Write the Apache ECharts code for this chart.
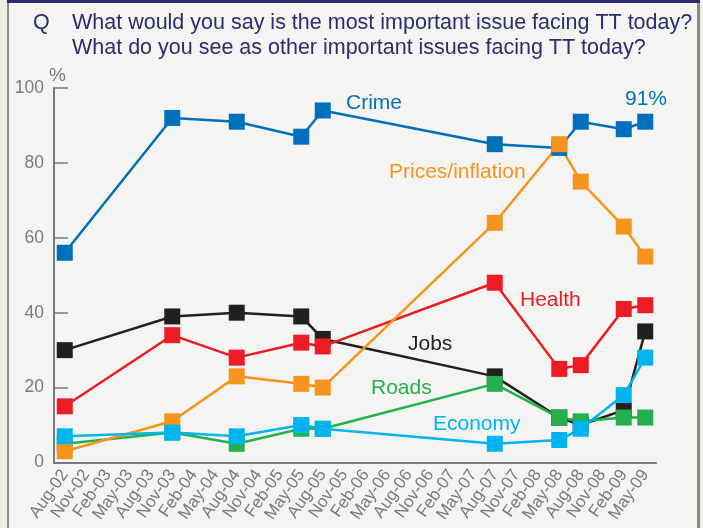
<!DOCTYPE html>
<html>
<head>
<meta charset="utf-8">
<script src="https://cdn.jsdelivr.net/npm/echarts@6/dist/echarts.min.js"></script>
<style>
html,body{margin:0;padding:0;background:#f0ede6;}
#chart{width:703px;height:528px;}
</style>
</head>
<body>
<div id="chart"></div>
<script>
var categories = ['Aug-02','Nov-02','Feb-03','May-03','Aug-03','Nov-03','Feb-04','May-04','Aug-04','Nov-04','Feb-05','May-05','Aug-05','Nov-05','Feb-06','May-06','Aug-06','Nov-06','Feb-07','May-07','Aug-07','Nov-07','Feb-08','May-08','Aug-08','Nov-08','Feb-09','May-09'];
var surveyMonths = ['Aug-02','Nov-03','Aug-04','May-05','Aug-05','Aug-07','May-08','Aug-08','Feb-09','May-09'];
var crime   = [56, 92, 91, 87, 94, 85, 84, 91, 89, 91];
var jobs    = [30, 39, 40, 39, 33, 23, 12, 10, 14, 35];
var roads   = [5, 8, 5, 9, 9, 21, 12, 11, 12, 12];
var health  = [15, 34, 28, 32, 31, 48, 25, 26, 41, 42];
var prices  = [3, 11, 23, 21, 20, 64, 85, 75, 63, 55];
var economy = [7, 8, 7, 10, 9, 5, 6, 9, 18, 28];
var yTicks = [0, 20, 40, 60, 80, 100];

function toFull(vals){
  var out = categories.map(function(){ return null; });
  surveyMonths.forEach(function(m, i){ out[categories.indexOf(m)] = vals[i]; });
  return out;
}
function mk(name, vals, color){
  return {
    name: name, type: 'line', data: toFull(vals), connectNulls: true,
    symbol: 'rect', symbolSize: 16, showSymbol: true,
    lineStyle: {color: color, width: 2.5},
    itemStyle: {color: color},
    emphasis: {disabled: true}, animation: false
  };
}
var chart = echarts.init(document.getElementById('chart'), null, {renderer: 'canvas'});
var gray = '#7a7a7a';
var font = 'Liberation Sans, Arial, Helvetica, sans-serif';
var lf = '21px ' + font;
chart.setOption({
  animation: false,
  backgroundColor: '#f0ede6',
  grid: {left: 54, right: 47, top: 88, bottom: 65.5, containLabel: false},
  xAxis: {
    type: 'category', data: categories, boundaryGap: true,
    axisLine: {lineStyle: {color: gray, width: 2}},
    axisTick: {inside: true, length: 9, lineStyle: {color: gray, width: 1.5}, interval: 0},
    axisLabel: {interval: 0, rotate: 55, color: gray, fontSize: 17, fontFamily: font, margin: 9},
    splitLine: {show: false}
  },
  yAxis: {
    type: 'value', min: 0, max: 100, interval: 20,
    axisLine: {show: true, lineStyle: {color: gray, width: 2}},
    axisTick: {show: true, inside: true, length: 14, lineStyle: {color: gray, width: 1.5}},
    axisLabel: {color: gray, fontSize: 17.5, fontFamily: font, margin: 10},
    splitLine: {show: false}
  },
  graphic: [
    {type: 'rect', z: -10, shape: {x: 9, y: 0, width: 690, height: 528}, style: {fill: '#f4f4f2'}},
    {type: 'rect', z: -9, shape: {x: 7, y: 0, width: 2, height: 528}, style: {fill: '#8a8a8a'}},
    {type: 'rect', z: -9, shape: {x: 697, y: 0, width: 3, height: 528}, style: {fill: '#8a8a8a'}},
    {type: 'rect', z: -9, shape: {x: 7, y: 0, width: 693, height: 3}, style: {fill: '#2b2d6e'}},
    {type: 'text', left: 33, top: 12, style: {text: 'Q', fill: '#2b2d6e', font: '21.5px ' + font}},
    {type: 'text', left: 72, top: 12, style: {text: 'What would you say is the most important issue facing TT today?', fill: '#2b2d6e', font: '21.5px ' + font}},
    {type: 'text', left: 72, top: 37, style: {text: 'What do you see as other important issues facing TT today?', fill: '#2b2d6e', font: '21.5px ' + font}},
    {type: 'text', left: 49, top: 66, style: {text: '%', fill: gray, font: '19px ' + font}},
    {type: 'text', left: 346, top: 93, style: {text: 'Crime', fill: '#0070bb', font: lf}},
    {type: 'text', left: 625, top: 89, style: {text: '91%', fill: '#0070bb', font: lf}},
    {type: 'text', left: 389, top: 162, style: {text: 'Prices/inflation', fill: '#f7941d', font: lf}},
    {type: 'text', left: 520, top: 290, style: {text: 'Health', fill: '#ed1c24', font: lf}},
    {type: 'text', left: 408, top: 334, style: {text: 'Jobs', fill: '#231f20', font: lf}},
    {type: 'text', left: 371, top: 378, style: {text: 'Roads', fill: '#22b14c', font: lf}},
    {type: 'text', left: 433, top: 414, style: {text: 'Economy', fill: '#00b4ef', font: lf}}
  ],
  series: [
    mk('Crime', crime, '#0070bb'),
    mk('Jobs', jobs, '#231f20'),
    mk('Roads', roads, '#22b14c'),
    mk('Health', health, '#ed1c24'),
    mk('Prices/inflation', prices, '#f7941d'),
    mk('Economy', economy, '#00b4ef')
  ]
});
</script>
</body>
</html>
